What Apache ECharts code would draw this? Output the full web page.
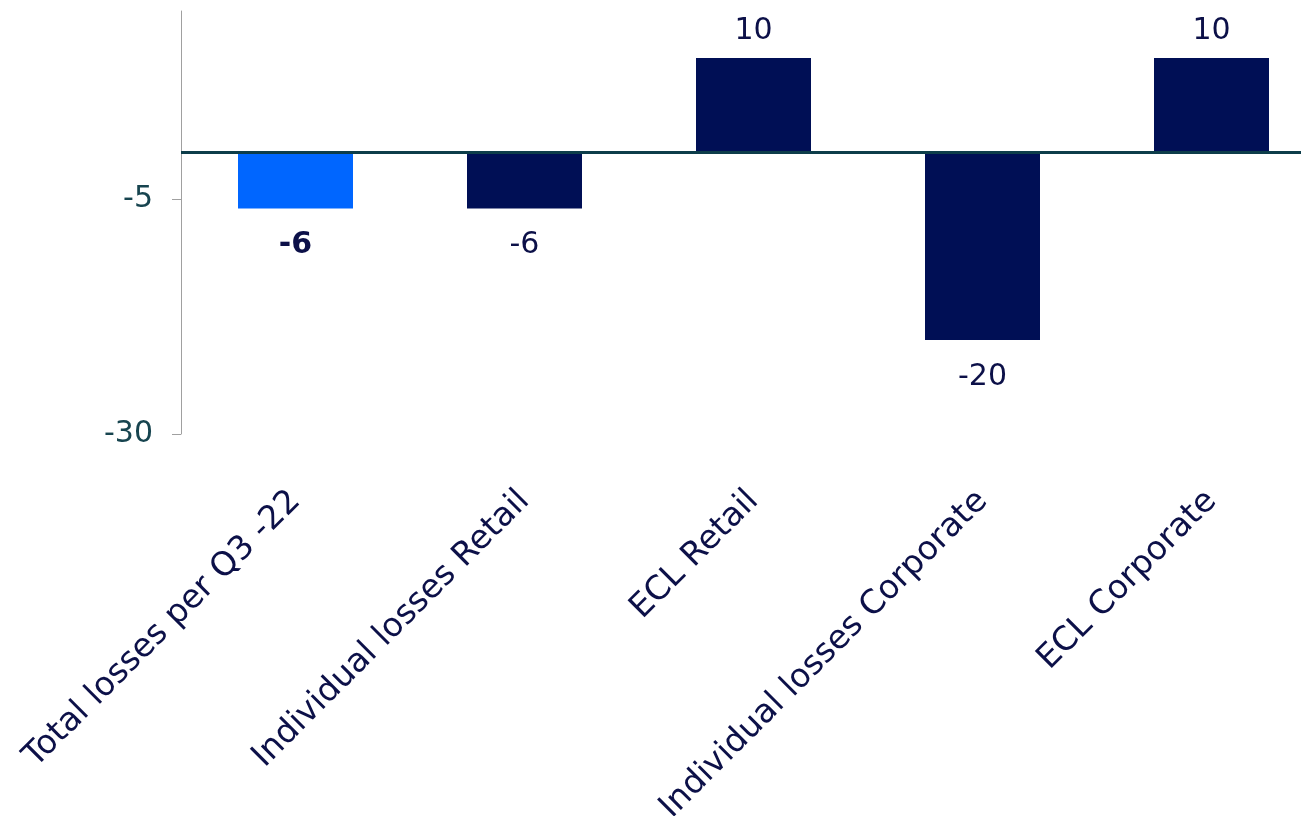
<!DOCTYPE html>
<html>
<head>
<meta charset="utf-8">
<script src="https://cdn.jsdelivr.net/npm/echarts@6/dist/echarts.min.js"></script>
<style>
html,body{margin:0;padding:0;background:#fff;}
#chart{width:1301px;height:816px;}
</style>
</head>
<body>
<div id="chart"></div>
<script>
const categories = ['Total losses per Q3 -22', 'Individual losses Retail', 'ECL Retail', 'Individual losses Corporate', 'ECL Corporate'];
const values = [-6, -6, 10, -20, 10];
const yTicks = [-30, -5];

const NAVY = '#000f55';
const BLUE = '#0066ff';
const FONT = 'DejaVu Sans';

const data = values.map((v, i) => ({
  value: v,
  itemStyle: { color: i === 0 ? BLUE : NAVY },
  label: {
    position: v < 0 ? 'bottom' : 'top',
    distance: v < 0 ? 22 : 12,
    fontWeight: i === 0 ? 'bold' : 'normal'
  }
}));

const chart = echarts.init(document.getElementById('chart'), null, { renderer: 'canvas' });
chart.setOption({
  animation: false,
  grid: { left: 181, top: 11, width: 1145, bottom: 382, containLabel: false, outerBoundsMode: 'none' },
  xAxis: {
    type: 'category',
    data: categories,
    axisLine: { show: false, onZero: false },
    axisTick: { show: false },
    axisLabel: {
      rotate: 45,
      interval: 0,
      margin: 62,
      color: '#0c1048',
      fontFamily: FONT,
      fontSize: 33
    }
  },
  yAxis: {
    type: 'value',
    min: -30,
    max: 15,
    interval: 5,
    splitLine: { show: false },
    axisLine: { show: true, lineStyle: { color: '#a0a0a0', width: 1 } },
    axisTick: { show: true, length: 9, lineStyle: { color: '#a0a0a0' }, customValues: yTicks },
    axisLabel: {
      customValues: yTicks,
      margin: 28,
      color: '#17444f',
      fontFamily: FONT,
      fontSize: 30
    }
  },
  series: [{
    type: 'bar',
    data: data,
    barWidth: 115,
    label: {
      show: true,
      color: '#0c1048',
      fontFamily: FONT,
      fontSize: 30
    },
    markLine: {
      silent: true,
      symbol: 'none',
      label: { show: false },
      lineStyle: { color: '#0d3d4a', width: 3, type: 'solid' },
      data: [{ yAxis: 0 }]
    }
  }]
});
</script>
</body>
</html>
